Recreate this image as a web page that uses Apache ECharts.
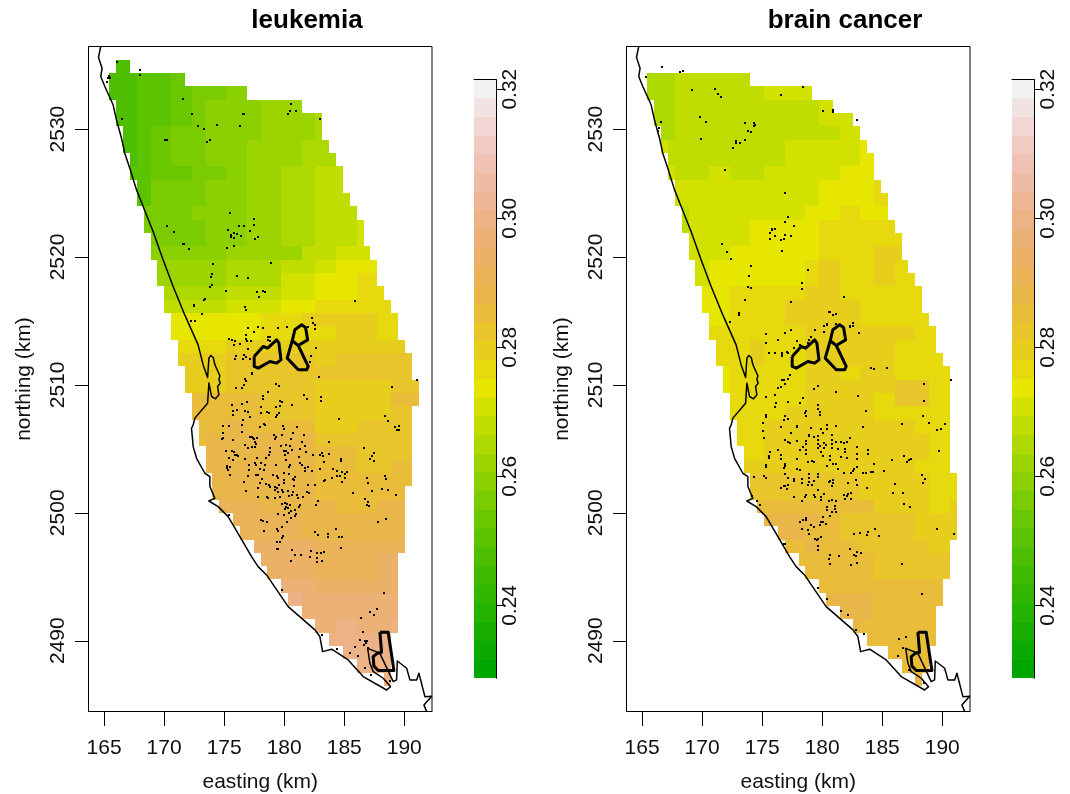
<!DOCTYPE html>
<html>
<head>
<meta charset="utf-8">
<style>html,body{margin:0;padding:0;background:#fff}#c{width:1070px;height:794px}</style>
<script src="https://cdn.jsdelivr.net/npm/echarts@6/dist/echarts.min.js"></script>
</head>
<body>
<div id="c"></div>
<script>
// Colour levels of the risk scale (low to high), one per 0.0029 band
const riskLevels = ['#00A600','#0BAA00','#17AE00','#24B300','#31B700','#3EBB00','#4DBF00','#5BC300','#6BC800','#7ACC00','#8BD000','#9CD400','#ADD900','#C0DD00','#D2E100','#E6E600','#E6D90E','#E7CE1D','#E8C52B','#E9BD3A','#E9B749','#EAB358','#EBB167','#ECB176','#EDB285','#EEB694','#EEBBA4','#EFC2B3','#F0CBC3','#F1D6D3','#F1E3E2','#F2F2F2'];
const riskMin = 0.2287, riskStep = 0.0029;
const eastTicks = [165,170,175,180,185,190];
const northTicks = [2490,2500,2510,2520,2530];
const riskTicks = [0.24,0.26,0.28,0.30,0.32];
// Raster grid
const cellEast0 = 165.44, cellEastSize = 0.5722, cellNorth0 = 2535.42, cellNorthSize = 1.042;
// Each row: first column, then pairs (end column, risk level)
const leukemiaRows = [
[1,3,6],[0,4,6,9,7,11,8],[0,4,6,9,7,12,8,17,9,20,10],[1,4,6,9,7,12,8,14,9,22,10,28,11],[1,4,6,9,7,12,8,14,9,22,10,30,11,31,12],
[2,4,6,6,7,9,8,14,9,22,10,30,11,31,12],[2,4,6,6,7,9,8,14,9,20,10,28,11,32,12],[3,4,6,6,7,9,8,14,9,20,10,28,11,33,12],[3,6,7,12,8,17,9,20,10,25,11,30,12,34,13],[4,6,7,14,9,20,10,25,11,30,12,34,13],
[4,6,7,14,9,20,10,25,11,30,12,35,13],[5,12,9,20,10,25,11,30,12,36,13],[5,14,9,20,10,25,11,30,12,36,13,37,14],[6,14,9,20,10,25,11,30,12,36,13,37,14],[6,17,10,28,11,33,13,38,14],
[7,17,11,25,12,30,13,33,14,39,15],[7,17,11,25,12,30,14,36,15,39,16],[8,17,12,25,13,30,14,36,15,40,16],[8,17,13,25,14,30,15,41,16],[9,22,15,28,16,39,17,42,16],
[9,22,15,33,16,39,17,42,16],[10,17,16,43,17],[10,17,17,30,18,33,17,44,18],[11,17,17,33,18,44,18],[11,17,17,30,18,41,17,45,18],
[12,22,19,30,18,41,17,45,19],[12,22,19,30,18,41,17,44,18],[13,17,19,20,20,30,19,36,17,44,18],[13,14,19,30,20,44,18],[14,30,20,36,19,44,18],
[14,30,20,36,19,41,18,44,19],[15,30,20,44,19],[15,30,20,43,19],[16,22,21,33,20,39,19,43,20],[18,28,21,43,20],
[19,28,21,43,20],[21,30,22,43,21],[22,30,22,39,21,42,22],[23,30,22,39,21,42,22],[25,30,23,42,22],
[26,28,24,42,23],[28,42,23],[30,33,23,36,24,41,23,42,24],[32,41,24],[34,41,24],[36,41,24],[40,41,24]];
const brainRows = [
[],[0,4,12,15,13],[0,4,12,17,13,24,14],[1,4,12,25,13,27,14],[1,4,12,25,13,30,14],
[2,4,12,28,13,31,14],[2,3,14,20,13,31,14,32,15],[3,20,13,31,14,33,15],[3,4,14,9,13,12,14,17,13,28,14,33,15],[4,25,14,33,15,34,16],
[4,25,14,33,15,35,16],[5,6,13,23,14,28,15,31,16,35,15],[5,6,13,15,14,25,15,36,16],[6,15,14,25,15,37,16],[6,12,14,25,15,33,16,37,17],
[7,9,14,23,15,25,16,28,17,33,16,36,17,38,16],[7,9,14,23,15,25,16,28,17,33,16,36,17,39,16],[8,12,15,23,16,28,17,40,16],[8,12,15,20,16,31,17,40,16],[9,12,15,20,16,31,17,41,16],
[9,23,16,39,17,42,16],[10,15,16,17,17,23,16,36,17,42,16],[10,15,16,17,17,23,16,36,17,43,16],[11,12,15,23,16,28,17,31,16,36,17,44,16],[11,12,15,23,16,36,17,41,18,44,16],
[12,23,16,33,17,36,16,41,18,44,16],[12,20,16,33,17,44,16],[13,17,16,39,17,44,16],[13,17,16,41,17,44,16],[14,17,16,41,17,44,16],
[14,39,17,44,16],[15,31,18,41,17,45,16],[15,31,18,41,17,45,16],[16,33,19,41,17,44,16,45,17],[17,25,20,28,19,39,18,45,17],
[19,23,20,28,19,39,18,45,17],[20,23,19,25,20,31,19,41,18,44,17],[22,33,19,44,18],[23,33,19,44,18],[25,43,19],
[26,33,20,43,19],[28,33,20,42,19],[30,31,20,42,19],[32,42,19],[35,41,19],[37,41,19],[39,40,20]];
// Coastline and areas, km
const coast = [[164.72,2536.46],[164.53,2535.62],[164.83,2534.76],[164.72,2534.11],[165.06,2533.33],[165.75,2531.9],[166.03,2530.72],[166.45,2529.29],[166.72,2528.12],[167.14,2526.94],[167.7,2525.25],[168.31,2523.81],[169.08,2521.99],[169.92,2519.77],[170.75,2517.69],[171.72,2515.47],[172.83,2513.13],[173.25,2511.56],[173.62,2510.58],[173.73,2512.09],[173.89,2512.3],[174.09,2512.14],[174.23,2511.57],[174.64,2510.71],[174.56,2510.4],[174.67,2510.14],[174.45,2509.88],[174.56,2509.22],[174.28,2508.91],[173.95,2509.09],[173.73,2510.14],[173.62,2510.01],[173.62,2508.57],[172.56,2507.4],[172.42,2506.87],[172.28,2506.61],[172.42,2505.17],[172.7,2504.26],[173.39,2503.09],[173.81,2502.83],[173.81,2502.05],[174.22,2501.13],[173.72,2500.92],[174.5,2500.48],[175.33,2499.7],[176.31,2498.14],[177.28,2496.57],[177.83,2495.79],[178.53,2495.14],[180.33,2492.66],[182.56,2490.84],[182.97,2490.32],[183.2,2489.14],[183.95,2489.33],[185.33,2488.49],[186.58,2487.19],[188.53,2486.14],[188.86,2486.4],[188.25,2487.06],[187.42,2487.58],[187.14,2488.23],[186.95,2489.4],[187.97,2489.01],[189.08,2486.8],[189.36,2486.93],[189.42,2488.41],[190.2,2487.84],[190.47,2486.93],[191.03,2486.93],[191.22,2487.45],[191.72,2485.62],[192.28,2485.66],[191.64,2484.96],[191.87,2484.45]];
const areaWest = [[177.5,2512.22],[178.25,2513.0],[178.62,2512.87],[179.37,2513.52],[179.56,2513.26],[179.73,2511.96],[179.37,2511.7],[178.81,2511.83],[177.84,2511.31],[177.5,2511.44],[177.5,2512.22]];
const areaEast = [[180.67,2513.45],[180.89,2514.31],[181.45,2514.7],[181.78,2514.49],[181.95,2513.52],[181.17,2513.08],[182.0,2511.44],[181.87,2511.18],[181.17,2511.18],[180.25,2512.09],[180.67,2513.45],[181.17,2513.08]];
const areaSouth = [[187.97,2490.66],[188.66,2490.66],[189.14,2487.66],[187.83,2487.66],[187.47,2488.02],[187.41,2488.75],[187.75,2489.01],[188.11,2489.09],[187.97,2490.66]];
// Case locations, km
const leukemiaCases = [[166.11,2535.21],[168.03,2534.63],[168.03,2534.27],[165.39,2534.19],[165.53,2534.03],[165.33,2533.98],[165.22,2533.72],[166.45,2530.8],[171.53,2532.37],[172.36,2531.19],[172.86,2530.25],[173.36,2530.02],[174.39,2530.33],[176.36,2530.25],[176.56,2531.19],[176.64,2531.19],[173.61,2529.03],[173.86,2529.16],[170.06,2529.11],[170.22,2529.11],[180.56,2531.97],[180.47,2531.43],[180.95,2531.43],[180.31,2531.19],[182.97,2530.8],[175.47,2523.45],[177.47,2522.98],[177.47,2522.51],[176.22,2522.43],[176.64,2522.43],[177.14,2522.04],[175.31,2522.12],[175.81,2521.89],[176.06,2521.81],[175.56,2521.73],[175.56,2521.57],[175.81,2521.47],[176.39,2521.65],[177.81,2521.57],[177.56,2521.42],[170.22,2522.43],[170.81,2521.96],[171.56,2521.03],[171.64,2521.03],[172.06,2520.63],[175.22,2520.71],[175.81,2520.87],[174.06,2519.46],[178.89,2519.54],[173.97,2518.68],[173.89,2518.45],[176.06,2518.52],[176.97,2518.37],[173.97,2517.82],[173.81,2517.66],[175.14,2517.35],[177.72,2517.27],[178.22,2517.35],[178.39,2517.27],[177.89,2516.88],[173.39,2516.72],[173.31,2516.65],[172.47,2516.26],[172.47,2516.18],[173.14,2515.55],[176.72,2516.1],[176.81,2515.86],[185.89,2516.57],[172.22,2515.0],[172.56,2515.0],[182.31,2515.24],[182.39,2514.85],[182.56,2514.69],[182.56,2514.38],[182.0,2514.54],[178.22,2514.46],[177.81,2514.54],[179.47,2514.46],[180.22,2514.54],[176.97,2514.46],[177.47,2514.15],[176.81,2513.93],[176.81,2513.6],[176.92,2513.46],[177.22,2513.44],[178.64,2513.78],[178.81,2513.78],[178.64,2513.52],[178.81,2513.44],[175.39,2513.6],[175.64,2513.52],[175.89,2513.44],[175.81,2513.08],[176.31,2513.21],[176.97,2512.81],[182.64,2512.89],[175.97,2512.27],[175.89,2512.03],[176.64,2512.34],[176.81,2512.19],[176.56,2512.03],[177.14,2512.03],[182.22,2512.27],[182.14,2511.8],[177.31,2510.91],[182.89,2510.62]];
const leukemiaCasesSouth = [[176.75,2510.44],[176.83,2510.34],[177.31,2510.86],[182.89,2510.62],[176.64,2509.99],[175.97,2509.76],[176.47,2509.76],[179.31,2510.07],[179.56,2509.92],[188.97,2509.87],[191.06,2510.39],[178.64,2509.45],[178.22,2509.14],[178.22,2508.9],[181.64,2509.24],[181.89,2508.9],[183.06,2509.06],[183.06,2508.75],[175.64,2508.43],[176.47,2508.51],[176.89,2508.67],[179.64,2508.75],[179.81,2508.67],[180.64,2508.43],[179.31,2508.28],[179.64,2508.36],[178.06,2508.28],[176.06,2508.04],[175.72,2507.96],[176.72,2507.96],[176.97,2507.88],[178.06,2507.78],[178.56,2507.88],[178.72,2507.83],[179.56,2507.81],[179.39,2507.65],[175.72,2507.65],[176.56,2507.26],[177.14,2507.49],[179.31,2507.49],[188.39,2507.57],[188.64,2507.18],[184.56,2507.31],[176.47,2506.87],[174.89,2506.79],[175.39,2506.79],[177.97,2506.71],[178.31,2506.95],[178.39,2506.87],[179.89,2506.79],[179.97,2506.56],[181.06,2506.71],[174.89,2506.24],[174.81,2505.77],[174.89,2505.85],[175.72,2505.69],[176.47,2506.32],[177.14,2505.93],[177.31,2505.93],[177.39,2505.85],[177.47,2505.77],[177.72,2505.85],[177.56,2505.54],[179.14,2506.09],[179.31,2505.93],[179.22,2505.77],[179.81,2506.09],[180.72,2506.24],[181.64,2506.09],[180.56,2505.77],[181.47,2505.54],[181.72,2505.23],[183.72,2505.54],[189.22,2506.71],[189.56,2506.79],[189.56,2506.48],[189.39,2506.48],[176.72,2505.3],[176.97,2505.07],[177.31,2505.15],[177.56,2505.15],[177.64,2505.38],[178.81,2505.07],[179.72,2505.23],[180.14,2505.3],[180.47,2505.23],[180.64,2504.91],[180.14,2504.83],[179.97,2504.83],[180.31,2504.68],[181.31,2504.99],[181.81,2504.76],[186.64,2505.07],[175.14,2504.83],[175.64,2504.83],[175.81,2504.76],[175.89,2504.52],[176.06,2504.52],[176.14,2504.44],[175.39,2504.29],[175.72,2504.13],[176.72,2504.21],[177.72,2504.29],[178.47,2504.29],[178.81,2504.76],[178.72,2504.52],[180.06,2504.52],[180.14,2504.13],[181.22,2504.37],[181.31,2503.9],[181.47,2503.74],[182.39,2504.52],[182.97,2504.52],[183.14,2504.68],[183.22,2504.44],[183.31,2503.97],[183.72,2504.6],[184.72,2504.21],[184.72,2504.05],[187.47,2504.68],[187.31,2504.44],[187.14,2504.21],[187.47,2504.05],[175.22,2503.66],[175.22,2503.5],[175.47,2503.58],[175.31,2503.35],[175.47,2502.96],[177.06,2503.74],[177.06,2503.35],[177.56,2503.9],[177.64,2503.74],[178.06,2503.9],[178.39,2503.74],[177.97,2503.43],[178.31,2503.35],[179.31,2503.74],[180.47,2503.74],[180.39,2503.58],[181.72,2503.5],[181.97,2503.58],[181.72,2503.27],[182.31,2503.27],[182.97,2503.43],[184.06,2503.43],[184.39,2503.27],[184.81,2503.19],[185.22,2503.19],[185.06,2503.04],[176.97,2502.88],[177.64,2502.96],[177.81,2502.96],[178.14,2502.65],[179.06,2502.96],[179.39,2502.88],[179.47,2502.72],[179.97,2503.11],[180.39,2503.04],[180.89,2502.8],[180.72,2502.65],[179.97,2502.57],[180.81,2502.57],[183.31,2502.49],[183.39,2502.57],[183.97,2502.72],[184.39,2502.88],[184.64,2502.88],[185.06,2502.72],[186.97,2502.33],[184.81,2502.41],[186.89,2502.72],[188.39,2502.88],[188.47,2502.65],[176.64,2502.41],[177.97,2502.33],[178.47,2502.26],[178.72,2502.18],[178.81,2502.02],[177.81,2501.94],[179.22,2502.02],[179.39,2501.94],[179.56,2502.18],[179.97,2502.33],[179.81,2501.78],[180.31,2501.7],[180.81,2502.1],[181.97,2502.18],[182.56,2502.18],[176.81,2501.7],[179.22,2501.78],[179.47,2501.63],[179.89,2501.63],[180.72,2501.63],[180.39,2501.32],[180.64,2501.39],[181.06,2501.39],[181.14,2501.16],[181.56,2501.24],[181.89,2501.63],[182.06,2501.55],[185.72,2501.55],[187.31,2501.7],[188.14,2501.86],[188.64,2501.79],[189.31,2501.39],[177.81,2501.24],[178.56,2501.24],[178.64,2501.13],[179.22,2501.16],[179.64,2501.24],[186.72,2501.08],[186.97,2500.85],[186.89,2500.61],[187.06,2500.53],[182.81,2500.92],[182.64,2500.61],[179.81,2500.69],[180.06,2500.74],[180.22,2500.69],[180.14,2500.48],[180.47,2500.61],[180.31,2500.38],[181.31,2500.61],[181.22,2500.46],[180.89,2500.22],[180.56,2500.14],[180.06,2500.27],[179.47,2499.91],[179.97,2499.83],[180.39,2499.99],[180.89,2499.75],[180.56,2499.59],[180.97,2499.91],[180.22,2499.28],[188.47,2499.52],[187.81,2499.28],[175.39,2499.83],[178.06,2499.44],[178.22,2499.36],[178.56,2499.28],[178.31,2498.58],[179.39,2498.73],[179.81,2498.89],[179.47,2498.58],[179.89,2498.19],[179.81,2498.03],[179.39,2497.72],[179.64,2497.72],[182.56,2498.5],[182.81,2498.27],[183.64,2498.35],[183.64,2498.11],[184.31,2498.73],[184.56,2498.11],[184.81,2498.11],[184.72,2497.25],[179.39,2497.17],[179.47,2497.17],[180.64,2497.09],[180.89,2496.7],[181.39,2496.7],[182.22,2497.01],[182.14,2496.55],[182.72,2496.86],[182.72,2496.47],[183.06,2496.86],[183.31,2496.94],[182.72,2496.16],[183.14,2496.24],[180.56,2496.24],[179.81,2493.96],[188.31,2493.73],[187.72,2492.48],[187.14,2492.24],[187.47,2492.01],[186.39,2491.77],[186.56,2490.68],[183.14,2490.44],[186.31,2490.05],[186.72,2489.97],[186.89,2489.97],[186.81,2489.82],[185.89,2489.51],[186.64,2489.64],[184.39,2489.35],[185.47,2489.04],[186.97,2489.43],[186.14,2488.8],[186.72,2487.87],[187.22,2487.32],[188.81,2486.85]];
const brainCases = [[166.69,2534.87],[168.19,2534.48],[168.44,2534.56],[165.36,2534.09],[169.19,2533.07],[171.03,2533.15],[171.36,2532.76],[171.61,2532.52],[176.53,2532.68],[178.44,2533.3],[180.03,2531.43],[180.86,2531.51],[180.94,2531.35],[182.86,2530.72],[169.86,2530.96],[170.36,2530.57],[166.61,2530.57],[166.44,2530.1],[166.36,2529.86],[173.61,2530.49],[174.36,2530.49],[174.44,2530.33],[174.28,2530.25],[173.86,2529.86],[174.03,2529.78],[169.94,2529.24],[173.61,2529.16],[172.86,2529.08],[172.86,2528.92],[173.19,2528.92],[172.53,2528.53],[171.94,2526.81],[176.94,2525.01],[177.11,2523.14],[176.86,2522.75],[177.61,2522.43],[175.78,2522.2],[175.78,2522.12],[176.03,2522.2],[175.69,2521.89],[176.11,2521.65],[176.86,2521.73],[177.44,2521.65],[175.69,2521.42],[176.53,2521.34],[176.78,2521.42],[171.69,2521.03],[172.11,2520.4],[172.44,2519.85],[176.61,2520.48],[174.11,2519.31],[178.78,2519.0],[173.94,2518.52],[178.28,2517.98],[173.78,2517.66],[174.03,2517.58],[178.28,2517.51],[173.53,2516.65],[177.36,2516.49],[181.78,2516.88],[173.11,2515.63],[173.03,2515.47],[172.28,2514.93],[180.53,2515.71],[180.61,2515.71],[180.94,2515.47],[181.19,2515.55],[181.11,2514.77],[182.53,2514.85],[182.53,2514.62],[182.28,2514.62],[182.28,2514.54],[180.36,2514.77],[180.19,2514.62],[180.44,2514.69],[179.44,2514.3],[180.11,2514.15],[177.44,2514.3],[176.86,2514.07],[175.36,2513.98],[183.03,2514.07],[176.36,2513.52],[175.28,2513.28],[177.94,2513.44],[179.03,2513.75],[178.86,2513.52],[178.78,2513.28],[178.94,2513.2],[177.69,2512.89],[178.11,2513.13],[175.61,2512.5],[176.03,2512.5],[176.61,2512.5],[176.69,2512.34],[176.69,2512.27],[177.03,2512.58],[177.11,2512.5],[184.03,2511.33],[184.28,2511.25],[185.36,2511.33],[177.28,2510.78],[176.69,2510.39],[177.11,2510.47],[190.69,2510.39],[177.28,2510.78],[177.11,2510.47],[176.78,2510.39],[176.86,2510.07],[176.53,2509.84],[176.28,2509.76],[179.61,2509.92],[179.28,2509.68],[188.44,2510.07],[190.69,2510.39],[181.11,2509.45],[176.11,2509.22],[175.36,2509.06],[182.94,2509.14],[178.44,2508.98],[176.19,2508.59],[176.11,2508.28],[177.19,2508.67],[178.19,2508.59],[179.69,2508.43],[179.69,2508.12],[179.78,2507.88],[179.78,2507.65],[188.44,2508.75],[183.61,2507.96],[178.61,2507.96],[178.53,2507.81],[178.69,2507.57],[175.28,2507.65],[175.36,2507.49],[176.94,2507.57],[177.11,2507.34],[176.78,2507.26],[188.36,2507.57],[175.03,2507.03],[188.86,2507.03],[186.61,2506.95],[190.19,2506.95],[189.86,2506.56],[189.53,2506.48],[176.53,2506.71],[175.11,2506.4],[175.19,2505.85],[177.44,2506.24],[177.86,2506.79],[177.94,2506.71],[179.03,2506.63],[180.36,2506.87],[180.44,2506.56],[181.11,2506.79],[179.94,2506.56],[180.03,2506.24],[178.94,2506.09],[178.86,2506.01],[179.28,2505.93],[179.69,2506.01],[179.69,2505.69],[180.78,2506.09],[180.78,2505.69],[183.36,2506.71],[176.94,2505.69],[177.11,2505.54],[177.28,2505.46],[177.94,2505.62],[178.69,2505.62],[178.61,2505.39],[179.61,2505.39],[179.78,2505.23],[180.19,2505.46],[180.28,2505.3],[180.78,2505.39],[181.11,2505.54],[181.53,2505.54],[181.78,2505.46],[182.03,2505.54],[182.28,2505.85],[175.69,2504.76],[176.36,2504.91],[175.53,2504.44],[175.53,2504.29],[176.53,2504.52],[176.53,2504.21],[177.86,2504.21],[178.19,2504.91],[178.36,2505.15],[178.69,2504.91],[178.69,2504.6],[179.69,2505.07],[179.86,2504.76],[180.03,2504.44],[180.19,2505.07],[180.78,2505.07],[181.28,2504.99],[181.94,2504.99],[181.86,2504.76],[181.53,2504.37],[182.03,2504.29],[182.86,2505.15],[182.86,2504.6],[182.86,2504.21],[183.78,2504.91],[183.78,2504.6],[189.69,2504.83],[186.78,2504.44],[187.36,2504.21],[187.19,2504.13],[187.03,2503.97],[185.78,2504.13],[178.78,2503.97],[179.28,2503.97],[179.19,2504.05],[180.69,2504.44],[180.69,2504.13],[175.28,2503.74],[175.36,2503.58],[176.94,2503.82],[176.86,2503.66],[176.78,2503.5],[177.94,2503.43],[178.19,2503.35],[180.36,2503.66],[180.86,2503.82],[181.11,2503.82],[181.28,2503.43],[181.78,2503.11],[182.86,2503.58],[182.69,2503.43],[182.53,2503.27],[182.44,2503.11],[183.36,2503.11],[183.61,2503.11],[184.03,2503.19],[184.19,2503.19],[184.28,2503.82],[185.11,2503.27],[174.36,2502.8],[175.19,2502.88],[175.36,2502.72],[176.94,2503.04],[177.19,2502.72],[177.61,2502.65],[177.69,2502.49],[178.28,2502.65],[178.28,2502.33],[178.94,2503.04],[178.94,2502.72],[179.61,2503.04],[179.61,2502.8],[179.28,2502.49],[178.86,2502.41],[178.78,2502.18],[179.11,2502.18],[180.69,2502.49],[180.94,2502.57],[180.86,2502.33],[180.78,2502.1],[180.53,2502.41],[182.11,2502.33],[182.78,2502.57],[182.86,2502.18],[183.69,2501.94],[188.28,2502.96],[188.53,2502.65],[188.36,2502.33],[186.03,2502.26],[185.86,2501.55],[186.69,2501.55],[176.94,2502.1],[177.11,2502.18],[176.53,2501.94],[176.78,2502.1],[177.03,2501.86],[177.61,2501.24],[178.69,2501.39],[178.53,2501.24],[178.28,2500.92],[179.28,2501.39],[179.44,2501.24],[179.69,2501.79],[180.19,2501.47],[179.94,2501.24],[179.86,2501.0],[181.78,2501.39],[182.03,2501.32],[181.94,2501.08],[182.44,2501.08],[182.44,2501.55],[182.11,2501.47],[174.19,2501.32],[174.61,2500.92],[174.78,2500.61],[181.19,2500.92],[180.53,2500.92],[180.78,2501.0],[180.36,2500.46],[180.36,2500.22],[181.03,2500.53],[181.03,2500.3],[180.78,2500.06],[181.19,2500.06],[186.78,2500.69],[187.28,2500.46],[180.03,2499.67],[180.61,2499.75],[178.69,2499.59],[178.69,2499.44],[178.36,2499.44],[178.11,2499.28],[179.03,2499.05],[179.86,2499.28],[180.03,2499.28],[180.28,2499.13],[179.78,2499.05],[179.28,2498.89],[178.28,2498.73],[178.78,2498.66],[178.86,2498.34],[189.53,2498.73],[190.94,2498.34],[182.69,2498.34],[183.11,2498.42],[183.78,2498.5],[183.69,2498.27],[184.36,2498.73],[184.69,2498.19],[179.94,2498.11],[179.36,2497.95],[179.53,2497.87],[179.61,2497.95],[176.78,2497.56],[176.94,2497.56],[179.69,2497.4],[179.69,2497.09],[182.28,2497.17],[182.86,2496.94],[183.19,2496.86],[182.61,2496.7],[182.78,2496.62],[180.69,2496.7],[181.44,2496.62],[180.53,2496.39],[180.69,2495.99],[182.44,2495.92],[182.86,2496.07],[186.61,2495.99],[179.61,2494.12],[188.28,2493.65],[180.36,2493.26],[181.53,2492.32],[182.19,2492.01],[182.78,2490.84],[183.44,2490.52],[186.36,2490.13],[186.94,2490.29],[186.69,2489.43],[186.28,2488.8],[187.19,2487.71],[188.44,2486.69]];
// Panels
const panels = [
 {title:'leukemia', rows:leukemiaRows, cases:leukemiaCases.concat(leukemiaCasesSouth), left:88.5, barLeft:474},
 {title:'brain cancer', rows:brainRows, cases:brainCases, left:626.5, barLeft:1012}
];
const FONT='"Liberation Sans",Arial,sans-serif', INK='#111';
const EAST_MIN=163.7, EAST_MAX=192.31, NORTH_MIN=2484.46, NORTH_MAX=2536.46;
const grid=[],xAxis=[],yAxis=[],series=[],title=[];
function rowsToCells(rows){
  const out=[];
  rows.forEach((r,i)=>{
    if(!r.length)return;
    let s=r[0];
    for(let k=1;k<r.length;k+=2){
      out.push([cellEast0+s*cellEastSize,cellEast0+r[k]*cellEastSize,cellNorth0-i*cellNorthSize,cellNorth0-(i+1)*cellNorthSize,r[k+1]]);
      s=r[k];
    }
  });
  return out;
}
function rectItem(params,api){
  const a=api.coord([api.value(0),api.value(2)]),b=api.coord([api.value(1),api.value(3)]);
  const x0=Math.round(a[0]),y0=Math.round(a[1]),x1=Math.round(b[0]),y1=Math.round(b[1]);
  return {type:'rect',shape:{x:x0,y:y0,width:x1-x0,height:y1-y0},style:{fill:riskLevels[api.value(4)]}};
}
function dotItem(params,api){
  const p=api.coord([api.value(0),api.value(1)]);
  return {type:'rect',shape:{x:Math.round(p[0]-1),y:Math.round(p[1]-1),width:2,height:2},style:{fill:'#000'}};
}
// tick series: direction (dx,dy) away from the axis, length in px
function tickSeries(values,gi,axisDim,at,dx,dy){
  return {type:'custom',xAxisIndex:gi,yAxisIndex:gi,coordinateSystem:'cartesian2d',clip:false,silent:true,animation:false,z:5,
    data:values.map(v=>[v]),encode:axisDim==='x'?{x:0}:{y:0},
    renderItem(params,api){
      const v=api.value(0),p=api.coord(axisDim==='x'?[v,at]:[at,v]);
      const x=Math.round(p[0])+(axisDim==='x'?0.5:0),y=Math.round(p[1])+(axisDim==='y'?0.5:0);
      return {type:'line',shape:{x1:x,y1:y,x2:x+dx,y2:y+dy},style:{stroke:'#000',lineWidth:1}};
    }};
}
panels.forEach((p,n)=>{
  const gMap=n*2, gBar=n*2+1;
  grid.push({left:p.left,top:46.5,width:343.5,height:665,show:true,borderColor:'#000',borderWidth:1,backgroundColor:'transparent',outerBoundsMode:'none'});
  grid.push({left:p.barLeft,top:79.5,width:22,height:598.8,show:false,outerBoundsMode:'none'});
  title.push({text:p.title,left:p.left+171.5+42,top:3,textAlign:'center',textStyle:{fontFamily:FONT,fontSize:26,fontWeight:'bold',color:'#000'}});
  xAxis.push({type:'value',gridIndex:gMap,min:EAST_MIN,max:EAST_MAX,name:'easting (km)',nameLocation:'middle',nameGap:60,
    nameTextStyle:{fontFamily:FONT,fontSize:21,color:INK},splitLine:{show:false},
    axisLine:{show:true,lineStyle:{color:'#000',width:1}},axisTick:{show:false},
    axisLabel:{margin:26,fontFamily:FONT,fontSize:21,color:INK,customValues:eastTicks,formatter:v=>String(v)}});
  yAxis.push({type:'value',gridIndex:gMap,min:NORTH_MIN,max:NORTH_MAX,name:'northing (km)',nameLocation:'middle',nameGap:54,nameRotate:90,
    nameTextStyle:{fontFamily:FONT,fontSize:21,color:INK},splitLine:{show:false},
    axisLine:{show:true,lineStyle:{color:'#000',width:1}},axisTick:{show:false},
    axisLabel:{margin:20,rotate:90,fontFamily:FONT,fontSize:21,color:INK,customValues:northTicks,formatter:v=>String(v)}});
  xAxis.push({type:'value',gridIndex:gBar,min:0,max:1,position:'top',axisLine:{show:true,onZero:false,lineStyle:{color:'#000',width:1}},axisTick:{show:false},axisLabel:{show:false},splitLine:{show:false}});
  yAxis.push({type:'value',gridIndex:gBar,min:riskMin,max:riskMin+32*riskStep,position:'right',splitLine:{show:false},
    axisLine:{show:true,onZero:false,lineStyle:{color:'#000',width:1}},axisTick:{show:false},
    axisLabel:{margin:4,rotate:90,fontFamily:FONT,fontSize:21,color:INK,customValues:riskTicks,formatter:v=>v.toFixed(2)}});
  series.push({type:'custom',name:p.title+' risk',xAxisIndex:gMap,yAxisIndex:gMap,coordinateSystem:'cartesian2d',clip:true,silent:true,
    data:rowsToCells(p.rows),encode:{x:[0,1],y:[2,3]},renderItem:rectItem,z:1,animation:false});
  series.push({type:'custom',name:p.title+' scale',xAxisIndex:gBar,yAxisIndex:gBar,coordinateSystem:'cartesian2d',silent:true,
    data:riskLevels.map((c,i)=>[0,1,riskMin+i*riskStep,riskMin+(i+1)*riskStep,i]),encode:{x:[0,1],y:[2,3]},renderItem:rectItem,z:1,animation:false});
  [[coast,1.5],[areaWest,3],[areaEast,3],[areaSouth,3]].forEach(([d,w])=>{
    series.push({type:'line',xAxisIndex:gMap,yAxisIndex:gMap,data:d,showSymbol:false,symbol:'none',silent:true,clip:true,smooth:false,animation:false,z:3,
      lineStyle:{color:'#000',width:w,join:'round'}});
  });
  series.push({type:'custom',name:p.title+' cases',xAxisIndex:gMap,yAxisIndex:gMap,coordinateSystem:'cartesian2d',clip:true,silent:true,animation:false,z:4,
    data:p.cases,encode:{x:0,y:1},renderItem:dotItem});
  series.push(tickSeries(eastTicks,gMap,'x',NORTH_MIN,0,14));
  series.push(tickSeries(northTicks,gMap,'y',EAST_MIN,-14,0));
  series.push(tickSeries(riskTicks,gBar,'y',1,9,0));
});
const chart=echarts.init(document.getElementById('c'),null,{renderer:'canvas'});
chart.setOption({animation:false,backgroundColor:'#fff',title,grid,xAxis,yAxis,series});
</script>
</body>
</html>
